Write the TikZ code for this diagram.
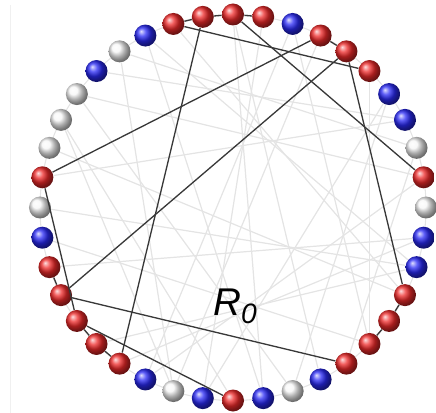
\documentclass[tikz,border=0pt]{standalone}
\usepackage{fontspec}
\setsansfont{Liberation Sans}
\definecolor{rojoN}{HTML}{EE2A2A}
\definecolor{azulN}{HTML}{2A2AF5}
\definecolor{blancoN}{HTML}{F6F6F6}
\definecolor{enlaceF}{HTML}{E4E4E4}
\definecolor{enlaceO}{HTML}{383838}
\colorlet{cR}{rojoN}
\colorlet{cB}{azulN}
\colorlet{cW}{blancoN}

\begin{document}
\begin{tikzpicture}[nodo/.style={circle,inner sep=0pt,minimum size=0.44cm,shade},
  debil/.style={enlaceF,line width=0.7pt},
  fuerte/.style={enlaceO,line width=0.75pt}]
          \useasboundingbox (-4.66,-4.11) rectangle (4.06,4.15);
          \draw[gray!12] (-4.46,-4.11) -- (-4.46,4.05);
          \draw[enlaceF,line width=0.6pt] (0,0) circle (3.86);
          \foreach \c [count=\k from 0] in {R,R,B,R,R,R,B,B,W,R,W,B,B,R,R,R,R,B,W,B,
                                             R,B,W,B,R,R,R,R,R,B,W,R,W,W,W,B,W,B,R,R}
            \node[nodo,ball color=c\c] (n\k) at ({90-9*\k}:3.86) {};
          \foreach \a/\b in {36/8,35/7,31/7,0/19,0/17,2/15,36/22,33/20,33/22,28/11,
                             29/15,5/15,37/12,32/13,34/9,1/21,2/23,3/22,6/18,8/16,
                             12/25,11/24,34/18,37/19,38/13,30/12,23/9,21/6}
            \draw[debil] (n\a) -- (n\b);
          \foreach \a/\b in {38/39,39/0,0/1,3/4,39/24,38/5,0/9,31/3,27/4,4/13,
                             31/26,28/27,26/25,25/24,27/16,26/20,13/14,14/15}
            \draw[fuerte] (n\a) -- (n\b);
          \node[font=\fontsize{22}{24}\selectfont\sffamily\itshape] (r0) at (0.04,-1.98)
            {R\raisebox{-0.4ex}{\fontsize{16}{16}\selectfont 0}};
        \end{tikzpicture}
\end{document}
